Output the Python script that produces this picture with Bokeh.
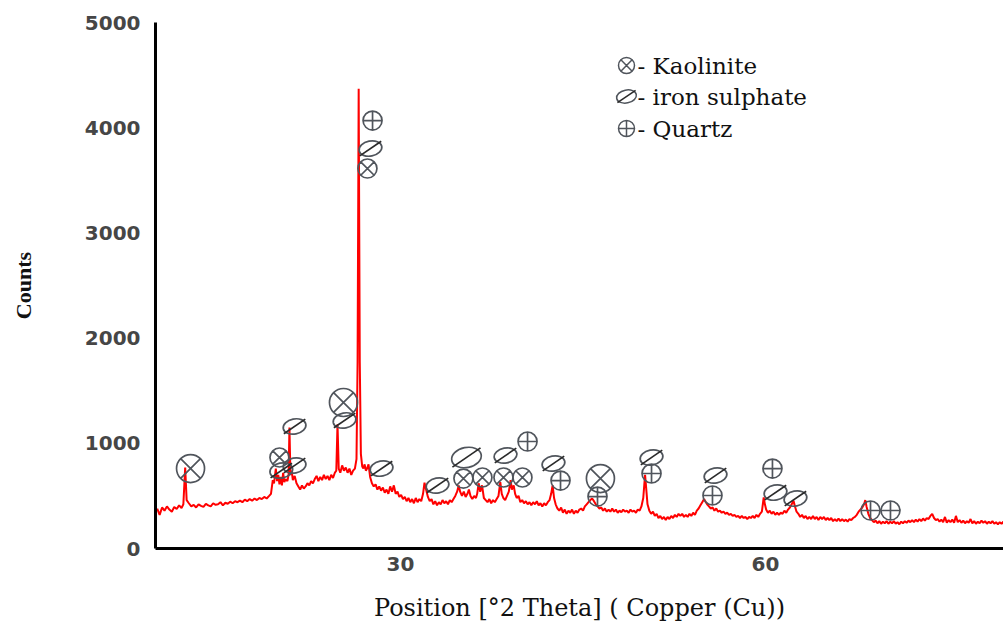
from bokeh.plotting import figure
from bokeh.models import FixedTicker
from bokeh.embed import file_html
from bokeh.resources import INLINE
from bokeh.core.properties import value

# ---------------- data ----------------
two_theta = [
    10.0, 10.2, 10.4, 10.6, 10.8, 11.0, 11.2, 11.4, 11.6, 11.8, 12.0, 12.15,
    12.3, 12.42,
    12.6, 12.8, 13.0, 13.2, 13.4, 13.6, 13.8, 14.0, 14.2, 14.4, 14.6, 14.8,
    15.0, 15.2, 15.4, 15.6, 15.8, 16.0, 16.2, 16.4, 16.6, 16.8, 17.0, 17.2,
    17.4, 17.6, 17.8, 18.0, 18.2, 18.4, 18.6, 18.8, 19.0, 19.2, 19.35,
    19.5, 19.6, 19.75, 19.85, 19.95, 20.05, 20.15, 20.25, 20.35, 20.45, 20.55,
    20.7, 20.8, 20.87, 20.95, 21.05, 21.15, 21.3, 21.45, 21.6, 21.75, 21.9,
    22.05, 22.2, 22.35, 22.5, 22.65, 22.8, 22.95, 23.1, 23.25, 23.4, 23.55,
    23.7, 23.85, 24.0, 24.15, 24.3, 24.45, 24.6, 24.72, 24.82, 24.92, 25.05,
    25.2, 25.35, 25.5, 25.65, 25.8, 25.95, 26.1, 26.25, 26.38, 26.47, 26.56,
    26.65, 26.74, 26.85, 26.95, 27.05, 27.15, 27.25, 27.37, 27.5, 27.65, 27.8,
    27.95, 28.1, 28.25, 28.4, 28.55, 28.7, 28.85, 29.0, 29.15, 29.3, 29.45,
    29.6, 29.75, 29.9, 30.05, 30.2, 30.35, 30.5, 30.65, 30.8, 30.95, 31.1,
    31.25, 31.4, 31.55, 31.7, 31.85, 31.97, 32.1, 32.25, 32.4, 32.55, 32.7,
    32.85, 33.0, 33.15, 33.3, 33.45, 33.6, 33.75, 33.9, 34.05, 34.2, 34.35,
    34.5, 34.65, 34.78, 34.9, 35.05, 35.2, 35.35, 35.5, 35.62, 35.75, 35.9,
    36.05, 36.2, 36.3, 36.42, 36.55, 36.7, 36.85, 37.0, 37.15, 37.3, 37.45,
    37.6, 37.75, 37.9, 38.05, 38.2, 38.32, 38.45, 38.6, 38.75, 38.9, 39.05,
    39.15, 39.3, 39.42, 39.55, 39.7, 39.85, 40.0, 40.15, 40.3, 40.45, 40.6,
    40.75, 40.9, 41.05, 41.2, 41.35, 41.5, 41.65, 41.8, 41.95, 42.1, 42.25,
    42.38, 42.5, 42.62, 42.75, 42.9, 43.05, 43.2, 43.35, 43.5, 43.65, 43.8,
    43.95, 44.1, 44.25, 44.4, 44.55, 44.7, 44.85, 45.0, 45.15, 45.3, 45.45,
    45.6, 45.75, 45.9, 46.05, 46.2, 46.35, 46.5, 46.65, 46.8, 46.95, 47.1,
    47.25, 47.4, 47.55, 47.7, 47.85, 48.0, 48.15, 48.3, 48.45, 48.6, 48.75,
    48.9, 49.05, 49.2, 49.35, 49.5, 49.65, 49.8, 49.95, 50.1, 50.2, 50.3,
    50.45, 50.6, 50.75, 50.9, 51.05, 51.2, 51.35, 51.5, 51.65, 51.8, 51.95,
    52.1, 52.25, 52.4, 52.55, 52.7, 52.85, 53.0, 53.15, 53.3, 53.45, 53.6,
    53.75, 53.9, 54.05, 54.2, 54.35, 54.5, 54.65, 54.8, 54.95, 55.05, 55.2,
    55.35, 55.5, 55.65, 55.8, 55.95, 56.1, 56.25, 56.4, 56.55, 56.7, 56.85,
    57.0, 57.15, 57.3, 57.45, 57.6, 57.75, 57.9, 58.05, 58.2, 58.35, 58.5,
    58.65, 58.8, 58.95, 59.1, 59.25, 59.4, 59.55, 59.7, 59.85, 59.95, 60.05,
    60.2, 60.35, 60.5, 60.65, 60.8, 60.95, 61.1, 61.25, 61.4, 61.55, 61.7,
    61.85, 62.0, 62.15, 62.3, 62.42, 62.55, 62.7, 62.85, 63.0, 63.15, 63.3,
    63.45, 63.6, 63.75, 63.9, 64.05, 64.2, 64.35, 64.5, 64.65, 64.8, 64.95,
    65.1, 65.25, 65.4, 65.55, 65.7, 65.85, 66.0, 66.15, 66.3, 66.45, 66.6,
    66.75, 66.9, 67.05, 67.2, 67.35, 67.5, 67.65, 67.8, 67.95, 68.1, 68.2,
    68.3, 68.45, 68.6, 68.75, 68.9, 69.05, 69.2, 69.35, 69.5, 69.65, 69.8,
    69.95, 70.1, 70.25, 70.4, 70.55, 70.7, 70.85, 71.0, 71.15, 71.3, 71.45,
    71.6, 71.75, 71.9, 72.05, 72.2, 72.35, 72.5, 72.65, 72.8, 72.95, 73.1,
    73.25, 73.4, 73.55, 73.7, 73.85, 74.0, 74.15, 74.3, 74.45, 74.6, 74.75,
    74.9, 75.05, 75.2, 75.35, 75.5, 75.65, 75.8, 75.95, 76.1, 76.25, 76.4,
    76.55, 76.7, 76.85, 77.0, 77.15, 77.3, 77.45, 77.6, 77.75, 77.9, 78.05,
    78.2, 78.35, 78.5, 78.65, 78.8, 78.95, 79.1, 79.25, 79.4, 79.55, 79.7,
    79.85,
]
counts = [
    380, 320, 390, 360, 400, 370, 350, 395, 375, 410, 385, 420,
    770, 460,
    430, 400, 415, 390, 420, 405, 395, 425, 410, 400, 430, 415,
    420, 440, 410, 435, 425, 445, 430, 450, 440, 455, 440, 465,
    450, 470, 455, 475, 460, 480, 470, 490, 475, 500, 520,
    650, 620, 760, 640, 700, 610, 680, 600, 720, 630, 660,
    640, 700, 1150, 700, 740, 650, 690, 620, 590, 560, 600,
    570, 590, 620, 600, 640, 620, 660, 690, 640, 680, 650,
    700, 660, 690, 650, 700, 670, 720, 740, 1180, 760, 720,
    790, 740, 770, 720, 760, 700, 740, 760, 850, 1770, 4370,
    1770, 900, 780, 760, 800, 740, 760, 800, 680, 620, 590,
    610, 560, 590, 550, 580, 530, 560, 520, 590, 540, 600,
    520, 540, 490, 510, 470, 490, 450, 480, 440, 470, 430,
    480, 440, 470, 450, 520, 625, 560, 490, 450, 470, 420,
    450, 410, 440, 420, 460, 430, 450, 420, 460, 440, 470,
    500, 540, 600, 540, 500, 540, 490, 520, 560, 500, 470,
    500, 480, 520, 620, 540, 600, 480, 460, 440, 470, 430,
    460, 440, 470, 500, 630, 520, 480, 460, 500, 540, 650,
    560, 600, 520, 480, 500, 440, 460, 430, 450, 420, 440,
    410, 440, 420, 450, 410, 430, 400, 430, 410, 440, 460,
    520, 600, 480, 420, 380, 360, 390, 340, 370, 330, 360,
    340, 370, 330, 360, 340, 370, 380, 360, 400, 420, 440,
    460, 475, 450, 420, 400, 380, 390, 360, 380, 350, 370,
    350, 380, 350, 370, 340, 360, 345, 370, 350, 360, 340,
    370, 350, 360, 340, 370, 360, 400, 480, 700, 560, 420,
    360, 330, 350, 310, 330, 290, 310, 280, 300, 270, 300,
    280, 310, 290, 320, 300, 330, 310, 330, 300, 320, 300,
    330, 310, 340, 320, 360, 380, 410, 440, 470, 450, 420,
    400, 380, 390, 360, 380, 350, 360, 340, 350, 330, 340,
    320, 330, 310, 320, 300, 310, 290, 310, 290, 300, 280,
    300, 290, 310, 290, 320, 300, 330, 350, 485, 420, 370,
    340, 360, 330, 350, 320, 340, 320, 340, 330, 360, 340,
    370, 390, 420, 455, 400, 350, 330, 300, 320, 290, 310,
    280, 300, 280, 310, 280, 300, 270, 300, 280, 300, 270,
    290, 270, 290, 260, 280, 260, 285, 260, 280, 260, 275,
    255, 280, 270, 290, 300, 320, 350, 370, 390, 420, 460,
    400, 330, 290, 270, 250, 265, 240, 260, 235, 255, 240,
    260, 235, 255, 240, 260, 235, 250, 230, 255, 240, 260,
    245, 265, 250, 270, 250, 275, 255, 280, 260, 285, 265,
    290, 280, 310, 330, 290, 270, 280, 255, 275, 250, 300,
    245, 270, 250, 275, 245, 310, 250, 270, 245, 265, 240,
    260, 245, 280, 240, 260, 235, 255, 240, 265, 245, 260,
    235, 255, 240, 260, 235, 250, 230, 250, 235, 255, 240,
    250,
]

# phase identification marks (2θ, counts)
kaolinite_x = [12.74, 20.05, 25.31, 27.28, 35.17, 36.73, 38.46, 40.02, 46.43]
kaolinite_y = [760, 865, 1388, 3612, 665, 675, 675, 675, 665]
iron_sulphate_x = [20.2, 21.29, 21.29, 25.40, 27.53, 28.44, 33.04, 35.42, 38.63,
                   42.57, 50.63, 55.89, 60.82, 62.46]
iron_sulphate_y = [741, 1160, 789, 1217, 3802, 760, 599, 865, 884,
                   808, 865, 694, 532, 475]
quartz_x = [27.70, 40.44, 43.15, 46.19, 50.63, 55.64, 60.57, 68.63, 70.27]
quartz_y = [4068, 1017, 646, 494, 713, 504, 760, 361, 361]

legend_labels = ["- Kaolinite", "- iron sulphate", "- Quartz"]
x_ticks = [30, 60]
y_ticks = [0, 1000, 2000, 3000, 4000, 5000]
x_title = "Position [\u00b02 Theta] ( Copper (Cu))"
y_title = "Counts"

# ---------------- layout / style ----------------
W, H = 1003, 633
LEFT, RIGHT, TOP, BOTTOM = 155, 0, 22, 85
X0, X1 = 9.86, 79.56
Y0, Y1 = 0, 5000
MARK = "#50555c"

p = figure(width=W, height=H, x_range=(X0, X1), y_range=(Y0, Y1),
           output_backend="svg", toolbar_location=None,
           min_border_left=LEFT, min_border_right=RIGHT,
           min_border_top=TOP, min_border_bottom=BOTTOM)
p.outline_line_color = None
p.grid.visible = False
p.background_fill_color = "white"
p.border_fill_color = "white"

for ax in (p.xaxis[0], p.yaxis[0]):
    ax.axis_line_color = "black"
    ax.axis_line_width = 3
    ax.major_tick_line_color = None
    ax.minor_tick_line_color = None
    ax.major_tick_out = 0
    ax.major_tick_in = 0
    ax.minor_tick_out = 0
    ax.major_label_text_font = "DejaVu Sans"
    ax.major_label_text_font_style = "bold"
    ax.major_label_text_font_size = "20px"
    ax.major_label_text_color = "#464646"

p.xaxis.ticker = FixedTicker(ticks=x_ticks)
p.yaxis.ticker = FixedTicker(ticks=y_ticks)
p.xaxis.major_label_standoff = 8
p.yaxis.major_label_standoff = 15

p.xaxis.axis_label = x_title
p.xaxis.axis_label_text_font = "DejaVu Serif"
p.xaxis.axis_label_text_font_style = "normal"
p.xaxis.axis_label_text_font_size = "24px"
p.xaxis.axis_label_text_color = "#111111"
p.xaxis.axis_label_standoff = 20

p.yaxis.axis_label = y_title
p.yaxis.axis_label_text_font = "Liberation Serif"
p.yaxis.axis_label_text_font_style = "bold"
p.yaxis.axis_label_text_font_size = "22px"
p.yaxis.axis_label_text_color = "#111111"
p.yaxis.axis_label_standoff = 46

# spectrum
p.line(two_theta, counts, line_color="#ff0000", line_width=2)

# markers
big_k = {0, 2, 8}
big_i = {7}
k_size = [28 if i in big_k else 19 for i in range(len(kaolinite_x))]
p.scatter(kaolinite_x, kaolinite_y, marker="circle_x", size=k_size,
          fill_color=None, line_color=MARK, line_width=1.7)
p.scatter(quartz_x, quartz_y, marker="circle_cross", size=19,
          fill_color=None, line_color=MARK, line_width=1.7)
ew = [30 if i in big_i else 23 for i in range(len(iron_sulphate_x))]
eh = [20 if i in big_i else 15 for i in range(len(iron_sulphate_x))]
ds = [34 if i in big_i else 26 for i in range(len(iron_sulphate_x))]
p.ellipse(iron_sulphate_x, iron_sulphate_y, width=ew, height=eh,
          width_units="screen", height_units="screen", angle=0.2,
          fill_color=None, line_color=MARK, line_width=1.7)
p.scatter(iron_sulphate_x, iron_sulphate_y, marker="dash", size=ds, angle=0.6,
          line_color="#2a2a2a", line_width=1.7)


# legend (drawn by hand)
def px2x(px):
    return X0 + (px - LEFT) / (W - LEFT - RIGHT) * (X1 - X0)


def py2y(py):
    return Y1 - (py - TOP) / (H - TOP - BOTTOM) * (Y1 - Y0)


rows = [65, 96, 128]
mx = px2x(626)
p.scatter([mx], [py2y(rows[0])], marker="circle_x", size=16,
          fill_color=None, line_color=MARK, line_width=1.5)
p.ellipse([mx], [py2y(rows[1])], width=20, height=13,
          width_units="screen", height_units="screen", angle=0.2,
          fill_color=None, line_color=MARK, line_width=1.5)
p.scatter([mx], [py2y(rows[1])], marker="dash", size=22, angle=0.6,
          line_color="#2a2a2a", line_width=1.5)
p.scatter([mx], [py2y(rows[2])], marker="circle_cross", size=16,
          fill_color=None, line_color=MARK, line_width=1.5)
p.text([px2x(637)] * 3, [py2y(r) for r in rows], text=legend_labels,
       text_font=value("DejaVu Serif"), text_font_style="normal",
       text_font_size="23px",
       text_color="#111111", text_baseline="middle", text_align="left")

open("out.html", "w").write(file_html(p, INLINE))
